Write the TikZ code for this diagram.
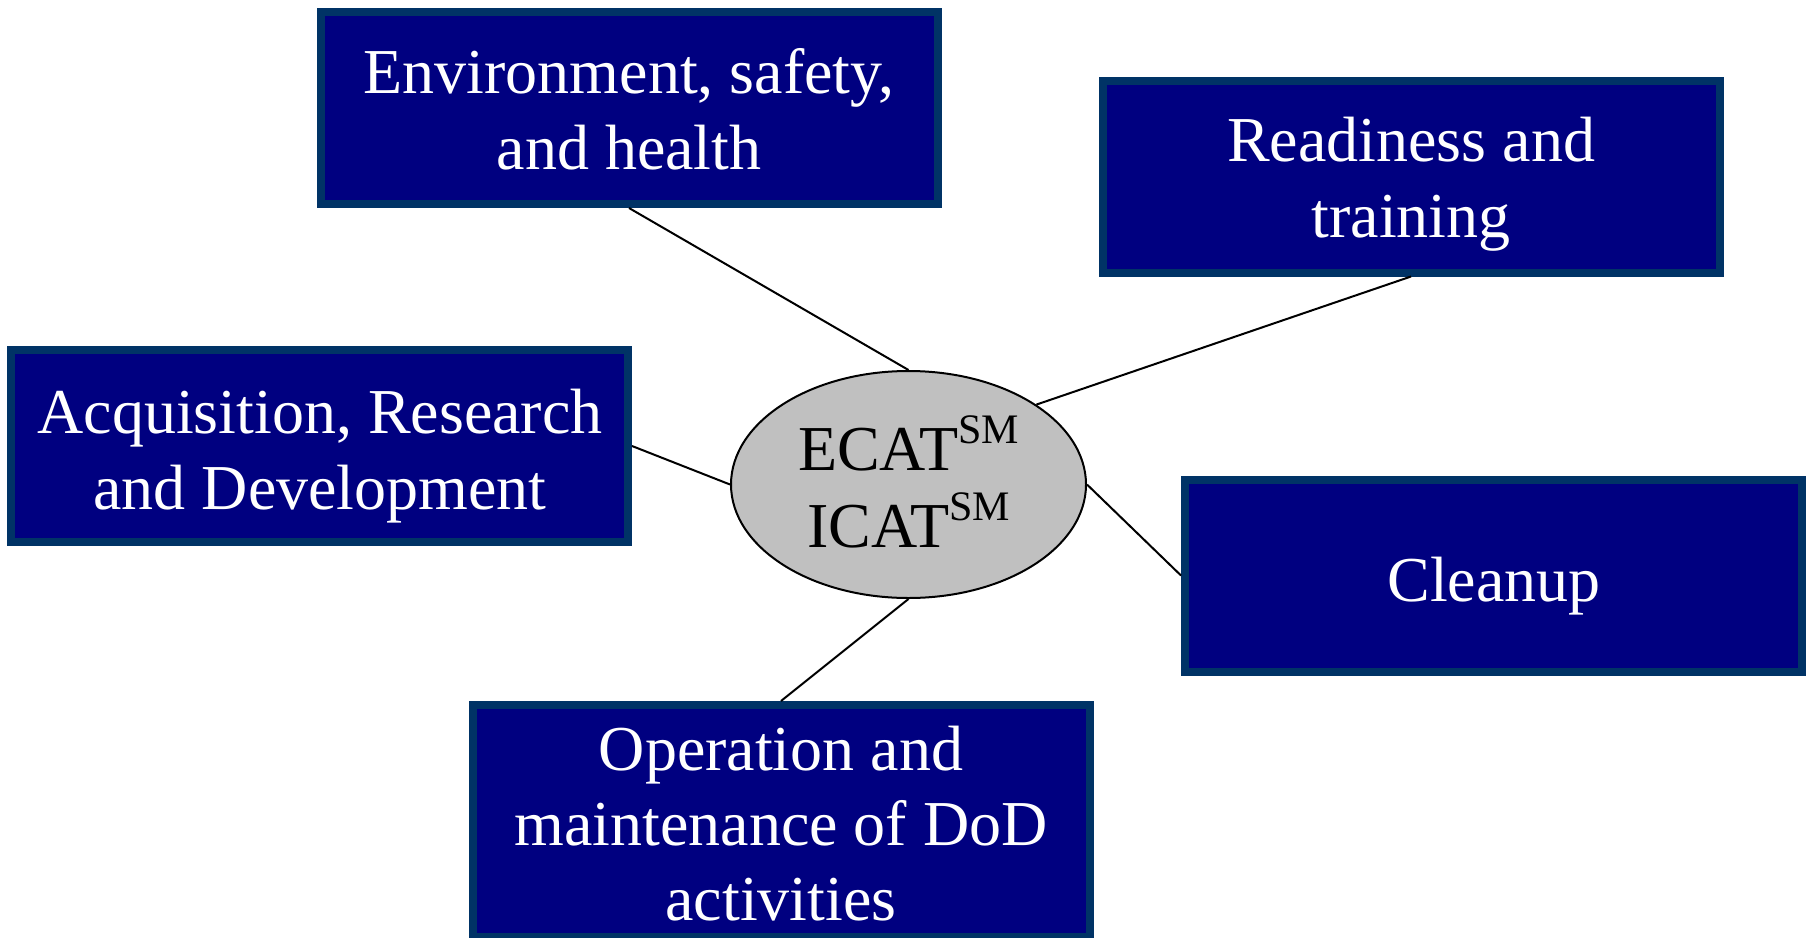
\documentclass[tikz,border=0pt]{standalone}
\usepackage{fontspec}
\setmainfont{Liberation Serif}
\usetikzlibrary{shapes.geometric}
\definecolor{boxfill}{HTML}{000080}
\definecolor{boxline}{HTML}{003366}
\definecolor{ellfill}{HTML}{C0C0C0}
\tikzset{
  topic/.style={draw=boxline, line width=4pt, fill=boxfill,
    minimum width=308.5pt, minimum height=96pt, inner sep=0pt},
  topictext/.style={anchor=base, inner sep=0pt, text=white,
    font=\fontsize{32}{38}\selectfont},
  hub/.style={ellipse, draw=black, line width=1pt, fill=ellfill,
    minimum width=177.5pt, minimum height=113.5pt, inner sep=0pt},
  hubtext/.style={anchor=base, inner sep=0pt, text=black,
    font=\fontsize{32}{38.5}\selectfont},
  link/.style={draw=black, line width=1pt}
}
\newcommand{\smark}{\raisebox{13.5pt}{\fontsize{21}{21}\selectfont SM}}
\newcommand{\lines}[1]{\begin{tabular}[t]{@{}c@{}}#1\end{tabular}}
\begin{document}
\begin{tikzpicture}[x=0.5pt,y=-0.5pt]
\useasboundingbox (0,0) rectangle (1814,937);
\node[hub] (e) at (908.5,484.5) {};
\node[hubtext] (et) at (908.5,470) {\lines{ECAT\smark\\ICAT\smark}};
\node[topic] (env) at (629,108) {};
\node[topictext] (envt) at (629,93) {\lines{Environment, safety,\\and health}};
\node[topic] (read) at (1411,176.5) {};
\node[topictext] (readt) at (1411,161) {\lines{Readiness and\\training}};
\node[topic] (acq) at (319.5,446) {};
\node[topictext] (acqt) at (320,433) {\lines{Acquisition, Research\\and Development}};
\node[topic] (clean) at (1493.5,575.5) {};
\node[topictext] (cleant) at (1494,601) {Cleanup};
\node[topic, minimum height=116pt] (op) at (781,821) {};
\node[topictext, font=\fontsize{32}{37.5}\selectfont] (opt) at (781,770) {\lines{Operation and\\maintenance of DoD\\activities}};
\draw[link] (env.south) -- (e.north);
\draw[link] (read.south) -- (e.32.6);
\draw[link] (acq.east) -- (e.west);
\draw[link] (clean.west) -- (e.east);
\draw[link] (op.north) -- (e.south);
\end{tikzpicture}
\end{document}
